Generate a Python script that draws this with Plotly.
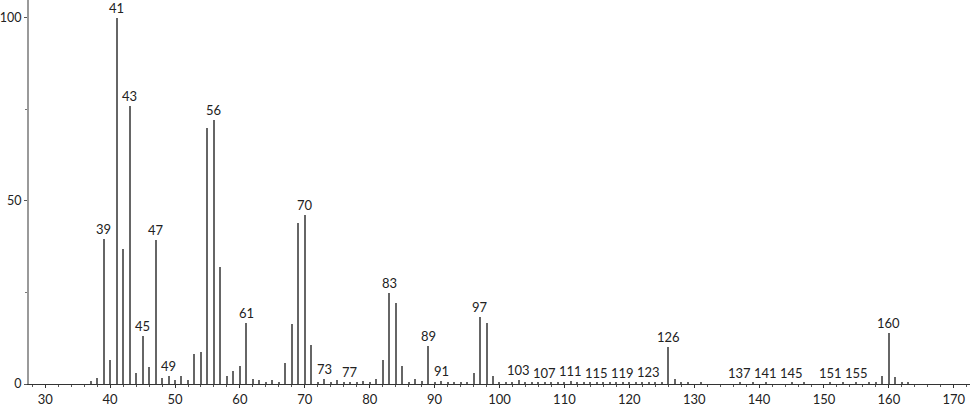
import plotly.graph_objects as go

mz = [37, 38, 39, 40, 41, 42, 43, 44, 45, 46, 47, 48, 49, 50, 51, 52, 53, 54, 55, 56,
      57, 58, 59, 60, 61, 62, 63, 64, 65, 66, 67, 68, 69, 70, 71, 72, 73, 74, 75, 76,
      77, 78, 79, 80, 81, 82, 83, 84, 85, 86, 87, 88, 89, 90, 91, 92, 93, 94, 95, 96,
      97, 98, 99, 100, 101, 102, 103, 104, 105, 106, 107, 108, 109, 110, 111, 112, 113,
      114, 115, 116, 117, 118, 119, 120, 121, 122, 123, 124, 125, 126, 127, 128, 129,
      131, 137, 139, 141, 145, 147, 151, 153, 155, 157, 158, 159, 160, 161, 162, 163]
intensity = [0.8, 1.7, 39.5, 6.5, 100, 37, 76, 3, 13, 4.7, 39.3, 1.7, 2.2, 1.1, 2.2, 1.1, 8.1, 8.7, 70, 72,
             32, 2.2, 3.6, 4.9, 16.7, 1.3, 1.2, 0.5, 1.1, 0.5, 5.8, 16.3, 44, 46.2, 10.7, 0.5, 1.5, 0.5, 1.1, 0.3,
             0.5, 0.3, 0.8, 0.5, 1.5, 6.6, 24.8, 22, 4.9, 0.5, 1.5, 0.8, 10.4, 0.5, 0.7, 0.5, 0.3, 0.3, 0.4, 2.9,
             18.4, 16.7, 2.2, 0.3, 0.4, 0.4, 1.1, 0.3, 0.4, 0.3, 0.4, 0.3, 0.4, 0.3, 0.9, 0.3, 0.4,
             0.3, 0.4, 0.3, 0.4, 0.3, 0.4, 0.3, 0.5, 0.3, 0.5, 0.3, 0.4, 10, 1.5, 0.6, 0.4,
             0.4, 0.3, 0.3, 0.3, 0.3, 0.3, 0.3, 0.4, 0.4, 0.5, 0.6, 2.2, 14, 1.8, 0.6, 0.4]
labelled = [39, 41, 43, 45, 47, 49, 56, 61, 70, 73, 77, 83, 89, 91, 97, 103, 107, 111,
            115, 119, 123, 126, 137, 141, 145, 151, 155, 160]
x_ticks = [30, 40, 50, 60, 70, 80, 90, 100, 110, 120, 130, 140, 150, 160, 170]
y_ticks = [0, 50, 100]

FONT = "Lato"
fig = go.Figure()
fig.add_trace(go.Bar(x=mz, y=intensity, width=0.16,
                     marker=dict(color="#666666", line=dict(width=0))))

lookup = dict(zip(mz, intensity))
for m in labelled:
    fig.add_annotation(x=m, y=lookup[m], text=str(m), showarrow=False,
                       yanchor="bottom", xanchor="center", yshift=0,
                       font=dict(family=FONT, size=13, color="#222222"))

fig.update_layout(
    width=974, height=406,
    margin=dict(l=29, r=4, t=0, b=22, autoexpand=False),
    paper_bgcolor="white", plot_bgcolor="white",
    showlegend=False, bargap=0,
    xaxis=dict(range=[27.5, 172.5], tickvals=x_ticks, ticktext=[str(v) for v in x_ticks],
               automargin=False,
               showgrid=False, zeroline=False, showline=True, linecolor="#333333", linewidth=1,
               ticks="outside", ticklen=3, tickcolor="#333333",
               minor=dict(dtick=2, tick0=0, ticks="outside", ticklen=2, tickcolor="#555555", showgrid=False),
               tickfont=dict(family=FONT, size=13, color="#222222")),
    yaxis=dict(range=[0, 104.9], tickvals=y_ticks, ticktext=[str(v) for v in y_ticks],
               automargin=False,
               showgrid=False, zeroline=False, showline=True, linecolor="#9a9a9a", linewidth=2,
               ticks="outside", ticklen=3, tickcolor="#555555",
               minor=dict(tickvals=[25, 75], ticks="outside", ticklen=2, tickcolor="#777777", showgrid=False),
               tickfont=dict(family=FONT, size=12.5, color="#222222")),
)
fig.write_html("out.html", config={"displayModeBar": False},
               post_script="document.body.style.margin='0';document.body.style.overflow='hidden';")
